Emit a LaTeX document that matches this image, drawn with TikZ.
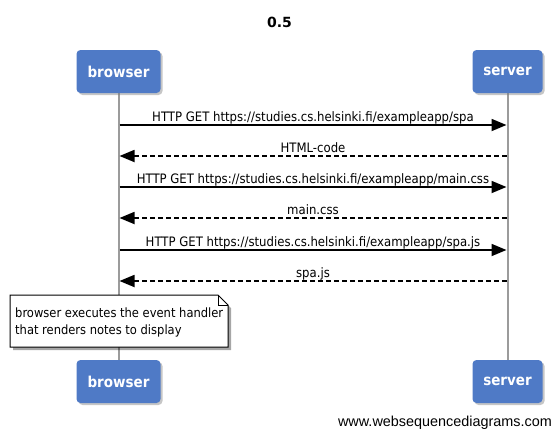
\documentclass[tikz,border=0pt]{standalone}
\usepackage{fontspec}
\setmainfont{DejaVu Sans Condensed}
\newfontfamily\footfont{Liberation Sans}
\newfontfamily\titlefont{DejaVu Sans}
\usetikzlibrary{arrows.meta,shadows}
\definecolor{actorblue}{RGB}{79,122,198}
\definecolor{lifegray}{RGB}{155,155,155}
\tikzset{
  actor/.style={draw=none, fill=actorblue, rounded corners=4pt, minimum width=#1, minimum height=43pt,
     text=white, font=\fontsize{15}{17}\selectfont\bfseries, drop shadow={shadow xshift=2pt,shadow yshift=-2pt,opacity=0.45}},
  lifeline/.style={draw=lifegray, line width=2pt},
  msg/.style={draw=black, line width=1.8pt, -{Triangle[length=15pt,width=12pt]}},
  ret/.style={msg, dash pattern=on 5pt off 3pt},
  lbl/.style={font=\fontsize{13}{15}\selectfont, inner sep=0pt, anchor=base, yshift=3.3pt},
}
\begin{document}
\begin{tikzpicture}[x=1pt,y=-1pt]
\useasboundingbox (0,0) rectangle (558,437);
\node[font=\titlefont\fontsize{14}{16}\selectfont\bfseries, anchor=base, inner sep=0pt] (title) at (279.5,27) {0.5};
% lifelines
\draw[lifeline] (118.5,93) -- (118.5,360);
\draw[lifeline] (507.5,93) -- (507.5,360);
\node[actor=84pt] (bt) at (118.5,71.5) {browser};
\node[actor=70pt] (st) at (507.5,71.5) {server};
\node[actor=84pt] (bb) at (118.5,381.5) {browser};
\node[actor=70pt] (sb) at (507.5,381.5) {server};
% anchors
\foreach \i/\y in {1/125,2/156,3/187,4/218,5/250,6/281}{
  \coordinate (b\i) at (119.5,\y);
  \coordinate (s\i) at (506.5,\y);
}
\draw[msg] (b1) -- node[lbl] {HTTP GET https://studies.cs.helsinki.fi/exampleapp/spa} (s1);
\draw[ret] (s2) -- node[lbl] {HTML-code} (b2);
\draw[msg] (b3) -- node[lbl] {HTTP GET https://studies.cs.helsinki.fi/exampleapp/main.css} (s3);
\draw[ret] (s4) -- node[lbl] {main.css} (b4);
\draw[msg] (b5) -- node[lbl] {HTTP GET https://studies.cs.helsinki.fi/exampleapp/spa.js} (s5);
\draw[ret] (s6) -- node[lbl] {spa.js} (b6);
% note
\fill[black, opacity=0.35] (13,298) -- (221,298) -- (231,308) -- (231,350) -- (13,350) -- cycle;
\draw[fill=white, line width=1pt] (10,295) -- (218,295) -- (228,305) -- (228,347) -- (10,347) -- cycle;
\draw[line width=0.8pt] (218,295) -- (218,305) -- (228,305);
\node[anchor=base west, align=left, inner sep=0pt, font=\fontsize{12.8}{17}\selectfont] (note) at (15,334) {browser executes the event handler\\that renders notes to display};
\node[anchor=base east, inner sep=0pt, font=\footfont\fontsize{14.4}{16}\selectfont] (foot) at (552,426) {www.websequencediagrams.com};
\end{tikzpicture}
\end{document}
